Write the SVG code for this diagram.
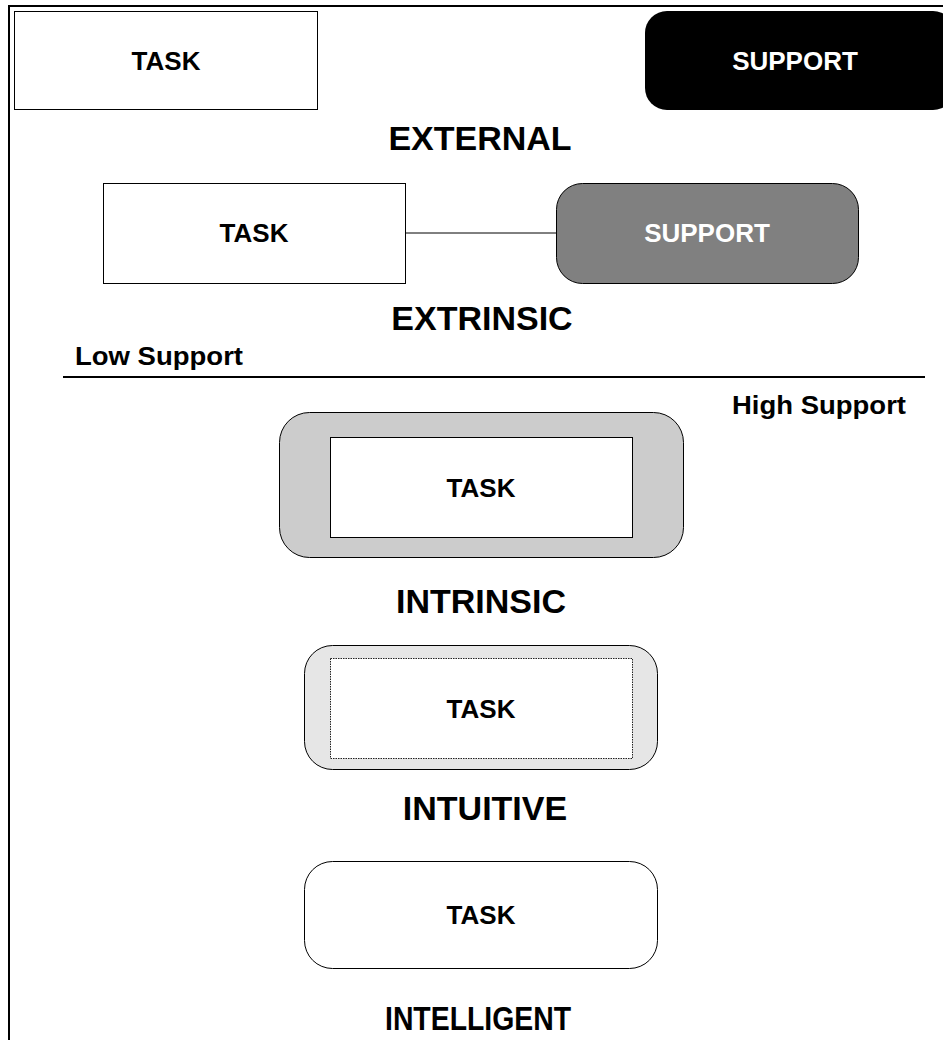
<svg xmlns="http://www.w3.org/2000/svg" width="943" height="1040" viewBox="0 0 943 1040">
<style>
text{font-family:"Liberation Sans",Arial,sans-serif;font-weight:bold;text-anchor:middle}
.t{font-size:26px}
.h{font-size:34px}
.s{font-size:25px}
.box{stroke:#000;stroke-width:1}
</style>
<rect width="943" height="1040" fill="#fff"/>
<g id="frame">
<line x1="9" y1="6" x2="943" y2="6" stroke="#000" stroke-width="2"/>
<line x1="9" y1="5" x2="9" y2="1040" stroke="#000" stroke-width="2"/>
</g>
<g id="connectors">
<line x1="405" y1="233" x2="556" y2="233" stroke="#000" stroke-width="1"/>
</g>
<g id="task1">
<rect class="box" x="14.5" y="11.5" width="303" height="98" fill="#fff"/>
<text class="t" x="166" y="70">TASK</text>
</g>
<g id="support1">
<rect x="645" y="11" width="310" height="99" rx="22" fill="#000"/>
<text class="t" x="795" y="70" fill="#fff">SUPPORT</text>
</g>
<text class="h" x="480" y="150">EXTERNAL</text>
<g id="task2">
<rect class="box" x="103.5" y="183.5" width="302" height="100" fill="#fff"/>
<text class="t" x="254" y="242">TASK</text>
</g>
<g id="support2">
<rect class="box" x="556.5" y="183.5" width="302" height="100" rx="26" fill="#808080"/>
<text class="t" x="707" y="242" fill="#fff">SUPPORT</text>
</g>
<text class="h" x="482" y="330">EXTRINSIC</text>
<text class="s" x="75" y="365" style="text-anchor:start" textLength="168" lengthAdjust="spacingAndGlyphs">Low Support</text>
<line x1="63" y1="377" x2="925" y2="377" stroke="#000" stroke-width="2"/>
<text class="s" x="732" y="414" style="text-anchor:start" textLength="174" lengthAdjust="spacingAndGlyphs">High Support</text>
<g id="intrinsic">
<rect class="box" x="279.5" y="412.5" width="404" height="145" rx="30" fill="#ccc"/>
<rect class="box" x="330.5" y="437.5" width="302" height="100" fill="#fff"/>
<text class="t" x="481" y="497">TASK</text>
</g>
<text class="h" x="481" y="613">INTRINSIC</text>
<g id="intuitive">
<rect class="box" x="304.5" y="645.5" width="353" height="124" rx="28" fill="#e6e6e6"/>
<rect x="330.5" y="658.5" width="302" height="100" fill="#fff" stroke="#222" stroke-width="1" stroke-dasharray="1.5,1"/>
<text class="t" x="481" y="718">TASK</text>
</g>
<text class="h" x="485" y="820">INTUITIVE</text>
<g id="intelligent">
<rect class="box" x="304.5" y="861.5" width="353" height="107" rx="28" fill="#fff"/>
<text class="t" x="481" y="924">TASK</text>
</g>
<text class="h" x="385" y="1030" style="text-anchor:start" textLength="186" lengthAdjust="spacingAndGlyphs">INTELLIGENT</text>
</svg>
